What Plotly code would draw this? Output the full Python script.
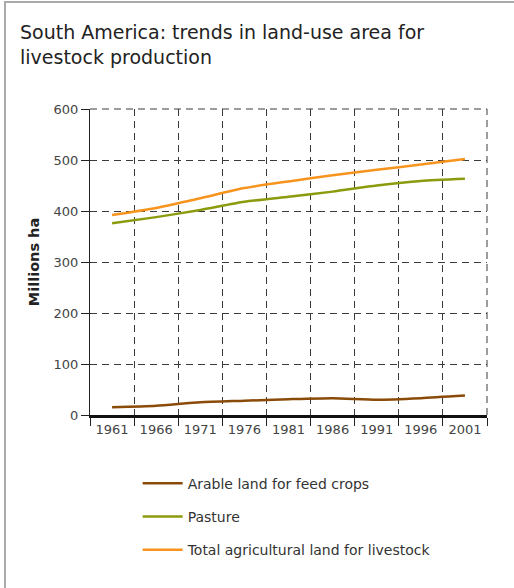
import plotly.graph_objects as go

years = [1961, 1966, 1971, 1976, 1981, 1986, 1991, 1996, 2001]
tick_labels = ["1961", "1966", "1971", "1976", "1981", "1986", "1991", "1996", "2001"]
arable = [15, 18, 25, 28, 31, 33, 30, 33, 38]
pasture = [376, 388, 402, 418, 428, 438, 450, 459, 463]
total = [392, 406, 425, 445, 458, 470, 481, 491, 502]

names = ["Arable land for feed crops", "Pasture", "Total agricultural land for livestock"]
colors = ["#8a4b08", "#8c9a0e", "#f7941d"]
series = [arable, pasture, total]

FONT = "DejaVu Sans"
DASH = "7px,5px"
GRID = "#3a3a3a"

fig = go.Figure()
for i, (nm, col, vals) in enumerate(zip(names, colors, series)):
    fig.add_trace(go.Scatter(
        x=years, y=vals, mode="lines", name=nm,
        line=dict(color=col, width=2.5, shape="spline", smoothing=0.6),
        legendgroup=f"g{i}",
    ))

fig.update_layout(
    width=514, height=588,
    margin=dict(l=90, r=27, t=109, b=173),
    paper_bgcolor="white", plot_bgcolor="white",
    font=dict(family=FONT, color="#333333", size=13),
    showlegend=True,
    legend=dict(
        x=0.12, y=-0.172, xanchor="left", yanchor="top",
        font=dict(family=FONT, size=14, color="#333333"),
        tracegroupgap=12, bgcolor="rgba(0,0,0,0)", itemwidth=40,
    ),
    xaxis=dict(
        range=[1958.5, 2003.5],
        tickmode="array", tickvals=years, ticktext=tick_labels,
        ticks="", showgrid=False, zeroline=False,
        showline=True, linecolor="#111111", linewidth=3,
        tickfont=dict(family=FONT, size=13, color="#444444"),
        minor=dict(tickmode="linear", tick0=1958.5, dtick=5, ticks="outside",
                   ticklen=8, tickcolor="#222222", tickwidth=1,
                   showgrid=True, gridcolor=GRID, gridwidth=1, griddash=DASH),
        fixedrange=True,
    ),
    yaxis=dict(
        range=[0, 600], tickvals=[0, 100, 200, 300, 400, 500, 600],
        ticks="outside", ticklen=8, tickcolor="#222222",
        showgrid=True, gridcolor=GRID, gridwidth=1, griddash=DASH,
        zeroline=False, showline=True, linecolor="#222222", linewidth=1,
        tickfont=dict(family=FONT, size=13, color="#444444"),
        title=dict(text="<b>Millions ha</b>", font=dict(family=FONT, size=14.5, color="#222222"), standoff=10),
        fixedrange=True,
    ),
    shapes=[
        dict(type="rect", xref="paper", yref="paper", x0=-0.2141, x1=1.1, y0=-0.6, y1=1.3497,
             line=dict(color="#aaaaaa", width=2), fillcolor="rgba(0,0,0,0)", layer="below"),
        dict(type="line", xref="paper", yref="paper", x0=1, x1=1, y0=0, y1=1,
             line=dict(color=GRID, width=1, dash=DASH)),
        dict(type="line", xref="paper", yref="paper", x0=0, x1=1, y0=1, y1=1,
             line=dict(color=GRID, width=1, dash=DASH)),
    ],
    annotations=[
        dict(text="South America: trends in land-use area for<br>livestock production",
             xref="paper", yref="paper", x=-0.181, y=1.295, xanchor="left", yanchor="top",
             align="left", showarrow=False,
             font=dict(family=FONT, size=19, color="#222222")),
    ],
)

fig.write_html("out.html", config={"displayModeBar": False},
               post_script="document.body.style.margin='0';")
